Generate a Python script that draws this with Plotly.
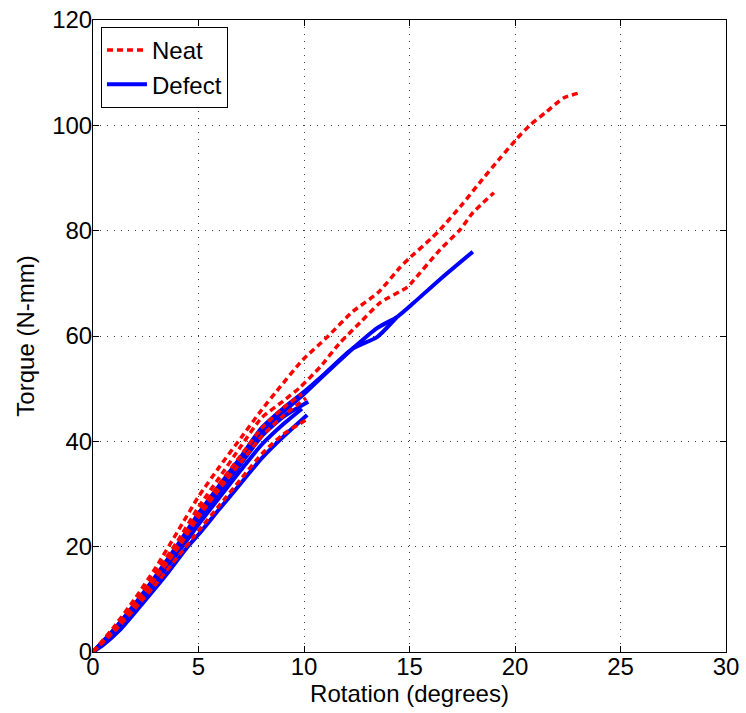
import plotly.graph_objects as go

# ---- Data ----
# Neat specimens (red dashed)
neat1_x = [0, 1, 2, 3, 4, 5, 6, 7, 8, 8.7, 9.95, 11.1, 12.3, 13.5, 14.55, 15.0, 16.0, 16.45, 17.5, 18.3, 19.3, 20.1, 20.7, 21.5, 22.3, 23.1]
neat1_y = [0, 4.8, 10.2, 16.2, 22.8, 29.5, 35.2, 40.6, 46.0, 49.5, 55.5, 59.8, 64.6, 68.2, 73.0, 74.8, 78.4, 80.2, 85.0, 89.0, 93.8, 97.5, 100.0, 102.6, 105.2, 106.2]

neat2_x = [0, 1, 2, 3, 4, 5, 6, 7, 8, 9, 9.8, 10.76, 11.7, 12.65, 13.6, 14.9, 15.2, 16.45, 17.4, 18.0, 19.0]
neat2_y = [0, 4.6, 9.8, 15.3, 21.0, 27.5, 33.2, 39.0, 44.5, 47.6, 50.2, 54.1, 58.7, 62.5, 66.3, 69.3, 70.6, 76.4, 80.2, 83.4, 87.2]

neat3_x = [0, 1, 2, 3, 4, 5, 6, 7, 8, 9, 9.9]
neat3_y = [0, 4.4, 9.3, 14.7, 20.3, 26.5, 32.0, 37.3, 42.5, 46.3, 49.0]

neat4_x = [0, 1, 2, 3, 4, 5, 6, 7, 8, 9, 10.1]
neat4_y = [0, 4.2, 9.0, 14.2, 19.6, 25.6, 31.0, 36.0, 41.0, 44.8, 48.2]

neat5_x = [0, 1, 2, 3, 4, 5, 6, 7, 8, 9, 10.2]
neat5_y = [0, 3.9, 8.3, 13.0, 18.0, 23.0, 27.9, 32.8, 37.6, 41.3, 44.3]

# Defect specimens (blue solid)
defect1_x = [0, 1, 2, 3, 4, 5, 6, 7, 8, 9, 10, 11, 12, 12.3, 13.46, 14.4, 15.2, 16.4, 18.0]
defect1_y = [0, 4.2, 9.0, 14.3, 19.9, 25.7, 31.0, 36.3, 41.8, 45.5, 49.0, 52.8, 56.5, 57.6, 61.5, 63.6, 66.3, 70.6, 76.0]

defect2_x = [0, 1, 2, 3, 4, 5, 6, 7, 8, 9, 10, 11, 12.3, 13.46, 14.4]
defect2_y = [0, 4.3, 9.2, 14.6, 20.3, 26.3, 31.7, 37.0, 42.6, 46.2, 49.4, 52.9, 57.6, 59.8, 63.6]

defect3_x = [0, 1, 2, 3, 4, 5, 6, 7, 8, 9, 10.2]
defect3_y = [0, 4.1, 8.8, 14.0, 19.5, 25.3, 30.5, 35.7, 41.0, 44.6, 47.5]

defect4_x = [0, 1, 2, 3, 4, 5, 6, 7, 8, 9, 9.9]
defect4_y = [0, 3.9, 8.4, 13.4, 18.7, 24.2, 29.4, 34.5, 39.4, 43.2, 46.2]

defect5_x = [0, 0.5, 1.28, 2.2, 3.5, 4.45, 5, 6, 7, 8, 9, 10.15]
defect5_y = [0, 1.4, 4.2, 8.5, 14.8, 19.8, 22.3, 27.2, 32.0, 36.8, 40.8, 45.0]

x_ticks = [0, 5, 10, 15, 20, 25, 30]
y_ticks = [0, 20, 40, 60, 80, 100, 120]

neat = [(neat1_x, neat1_y), (neat2_x, neat2_y), (neat3_x, neat3_y), (neat4_x, neat4_y), (neat5_x, neat5_y)]
defect = [(defect1_x, defect1_y), (defect2_x, defect2_y), (defect3_x, defect3_y), (defect4_x, defect4_y), (defect5_x, defect5_y)]

fig = go.Figure()

for i, (xs, ys) in enumerate(defect):
    fig.add_trace(go.Scatter(
        x=xs, y=ys, mode="lines", name="Defect", legendgroup="defect",
        showlegend=(i == 0), legendrank=2,
        line=dict(color="#0000ff", width=4, shape="spline", smoothing=0.6),
    ))

for i, (xs, ys) in enumerate(neat):
    fig.add_trace(go.Scatter(
        x=xs, y=ys, mode="lines", name="Neat", legendgroup="neat",
        showlegend=(i == 0), legendrank=1,
        line=dict(color="#ff0000", width=3.5, dash="6px,4px", shape="spline", smoothing=0.6),
    ))

font_family = "Liberation Sans, Arial, Helvetica, sans-serif"

axis_common = dict(
    showline=True, linecolor="black", linewidth=1, mirror="ticks",
    ticks="inside", ticklen=6, tickcolor="black", automargin=False,
    showgrid=True, gridcolor="rgba(0,0,0,0.75)", griddash="1px,6px", gridwidth=1,
    zeroline=False, tickfont=dict(size=24, color="black", family=font_family),
)

fig.update_xaxes(range=[0, 30], tickvals=x_ticks, ticktext=[str(v) for v in x_ticks],
                 ticklabelstandoff=-7,
                 title=dict(text="Rotation (degrees)", font=dict(size=24, color="black", family=font_family), standoff=0),
                 **axis_common)
fig.update_yaxes(range=[0, 120], tickvals=y_ticks, ticktext=[str(v) for v in y_ticks],
                 ticklabelstandoff=-5,
                 title=dict(text="Torque (N-mm)", font=dict(size=24, color="black", family=font_family), standoff=10),
                 **axis_common)

fig.update_layout(
    width=746, height=713,
    margin=dict(l=93, r=20, t=20, b=61),
    paper_bgcolor="white", plot_bgcolor="white",
    font=dict(family=font_family, size=24, color="black"),
    legend=dict(
        x=0.0126, y=0.989, xanchor="left", yanchor="top",
        bgcolor="white", bordercolor="black", borderwidth=1,
        font=dict(size=24, color="black", family=font_family),
        tracegroupgap=0, itemwidth=40,
    ),
    showlegend=True,
)

fig.write_html(
    "out.html",
    config={"displayModeBar": False},
    post_script="document.body.style.margin='0';document.body.style.overflow='hidden';",
)
